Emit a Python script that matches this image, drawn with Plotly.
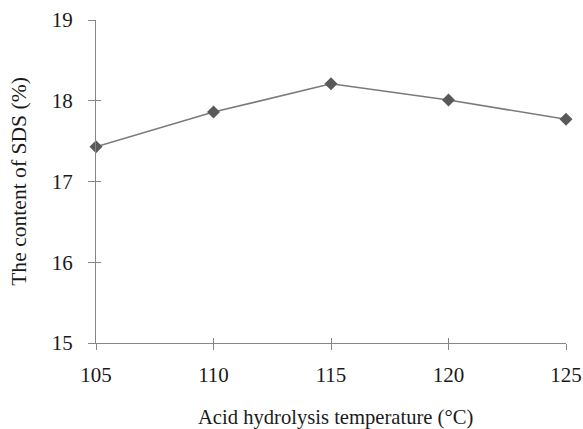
import plotly.graph_objects as go

temperature = [105, 110, 115, 120, 125]
sds_content = [17.43, 17.86, 18.21, 18.01, 17.77]
x_ticks = [105, 110, 115, 120, 125]
y_ticks = [15, 16, 17, 18, 19]
x_title = "Acid hydrolysis temperature (°C)"
y_title = "The content of SDS (%)"

FONT = "Liberation Serif"
AXIS_COLOR = "#868686"

fig = go.Figure()
fig.add_trace(go.Scatter(
    x=temperature, y=sds_content, mode="lines+markers",
    line=dict(color="#7a7a7a", width=1.6),
    marker=dict(symbol="diamond", size=10, color="#595959"),
    cliponaxis=False, showlegend=False,
))
# invisible trace on overlay axes that draw the inner half of the crossing ticks
fig.add_trace(go.Scatter(
    x=temperature, y=sds_content, mode="markers", xaxis="x2", yaxis="y2",
    marker=dict(opacity=0), hoverinfo="skip", showlegend=False,
))

common = dict(showgrid=False, zeroline=False, linecolor=AXIS_COLOR, linewidth=1.3,
              tickwidth=1.3, tickcolor=AXIS_COLOR, automargin=False)

fig.update_layout(
    width=583, height=429,
    margin=dict(l=96, r=17, t=20, b=86),
    paper_bgcolor="white", plot_bgcolor="rgba(0,0,0,0)",
    font=dict(family=FONT, size=21, color="#1a1a1a"),
    xaxis=dict(range=[105, 125], tickvals=x_ticks, ticks="outside", ticklen=6,
               showline=True, ticklabelstandoff=7, **common),
    yaxis=dict(range=[15, 19], tickvals=y_ticks, ticks="outside", ticklen=7,
               showline=True, ticklabelstandoff=11,
               title=dict(text=y_title, standoff=19, font=dict(size=21.6)),
               **common),
    xaxis2=dict(range=[105, 125], tickvals=x_ticks, ticks="inside", ticklen=5,
                overlaying="x", anchor="y", side="bottom", showticklabels=False,
                showline=False, **common),
    yaxis2=dict(range=[15, 19], tickvals=y_ticks, ticks="inside", ticklen=5,
                overlaying="y", anchor="x", side="left", showticklabels=False,
                showline=False, **common),
    annotations=[dict(
        text=x_title, xref="paper", yref="paper", x=0.5, y=0,
        xanchor="center", yanchor="top", xshift=4, yshift=-61,
        showarrow=False, font=dict(size=20.6),
    )],
)

fig.write_html(
    "out.html",
    config={"displayModeBar": False},
    post_script="document.body.style.margin='0';document.body.style.overflow='hidden';",
)
